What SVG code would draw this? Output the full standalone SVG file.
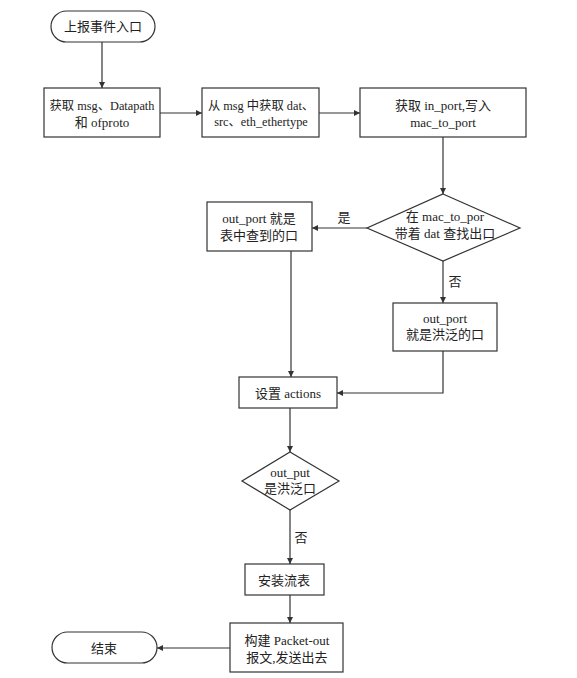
<svg xmlns="http://www.w3.org/2000/svg" width="577" height="678" viewBox="0 0 577 678">
<defs>
<marker id="ah" viewBox="0 0 10 10" refX="10" refY="5" markerWidth="9" markerHeight="6" markerUnits="userSpaceOnUse" orient="auto">
<path d="M0,0 L10,5 L0,10 z" fill="#333"/>
</marker>
</defs>
<style>
.n{fill:#fff;stroke:#333;stroke-width:1.2}
.t{font-family:"Liberation Serif","Noto Sans CJK SC",serif;font-size:13px;fill:#222;text-anchor:middle;dominant-baseline:central}
.s{font-size:12.3px}
.c{fill:none;stroke:#333;stroke-width:1.2;marker-end:url(#ah)}
</style>
<rect width="577" height="678" fill="#fff"/>
<g id="connectors">
<path class="c" d="M102,42 L102,88"/>
<path class="c" d="M160,113 L202,113"/>
<path class="c" d="M319,113 L360,113"/>
<path class="c" d="M443,137 L443,194"/>
<path class="c" d="M367,228 L312,228"/>
<path class="c" d="M443,261 L443,303"/>
<path class="c" d="M291,251 L291,377"/>
<path class="c" d="M443,351 L443,393 L337,393"/>
<path class="c" d="M290,408 L290,452"/>
<path class="c" d="M290,510 L290,564"/>
<path class="c" d="M290,595 L290,623"/>
<path class="c" d="M230,648 L157,648"/>
<text class="t" x="344" y="217">是</text>
<text class="t" x="455" y="281">否</text>
<text class="t" x="301" y="537">否</text>
</g>
<g id="start">
<rect class="n" x="51" y="11" width="104" height="31" rx="15.5"/>
<text class="t" x="103" y="26">上报事件入口</text>
</g>
<g id="get-msg">
<rect class="n" x="44" y="88" width="116" height="49"/>
<text class="t s" x="102" y="106">获取 msg、Datapath</text>
<text class="t" x="102" y="122">和 ofproto</text>
</g>
<g id="get-dat">
<rect class="n" x="202" y="88" width="117" height="49"/>
<text class="t s" x="261" y="106">从 msg 中获取 dat、</text>
<text class="t s" x="261" y="122">src、eth_ethertype</text>
</g>
<g id="get-inport">
<rect class="n" x="360" y="88" width="166" height="49"/>
<text class="t" x="443" y="105">获取 in_port,写入</text>
<text class="t" x="443" y="122">mac_to_port</text>
</g>
<g id="lookup">
<polygon class="n" points="443,194 520,228 443,261 367,228"/>
<text class="t" x="445" y="216">在 mac_to_por</text>
<text class="t" x="445" y="233">带着 dat 查找出口</text>
</g>
<g id="found-port">
<rect class="n" x="207" y="202" width="105" height="49"/>
<text class="t" x="259" y="218">out_port 就是</text>
<text class="t" x="259" y="235">表中查到的口</text>
</g>
<g id="flood-port">
<rect class="n" x="393" y="303" width="104" height="48"/>
<text class="t" x="445" y="318">out_port</text>
<text class="t" x="445" y="334">就是洪泛的口</text>
</g>
<g id="set-actions">
<rect class="n" x="239" y="377" width="98" height="31"/>
<text class="t" x="288" y="393">设置 actions</text>
</g>
<g id="is-flood">
<polygon class="n" points="290,452 339,481 290,510 242,481"/>
<text class="t" x="290" y="472">out_put</text>
<text class="t" x="290" y="488">是洪泛口</text>
</g>
<g id="install-flow">
<rect class="n" x="245" y="564" width="79" height="31"/>
<text class="t" x="284" y="580">安装流表</text>
</g>
<g id="packet-out">
<rect class="n" x="230" y="623" width="113" height="49"/>
<text class="t" x="287" y="640">构建 Packet-out</text>
<text class="t" x="287" y="657">报文,发送出去</text>
</g>
<g id="end">
<rect class="n" x="52" y="632" width="105" height="31" rx="15.5"/>
<text class="t" x="104" y="648">结束</text>
</g>
</svg>
